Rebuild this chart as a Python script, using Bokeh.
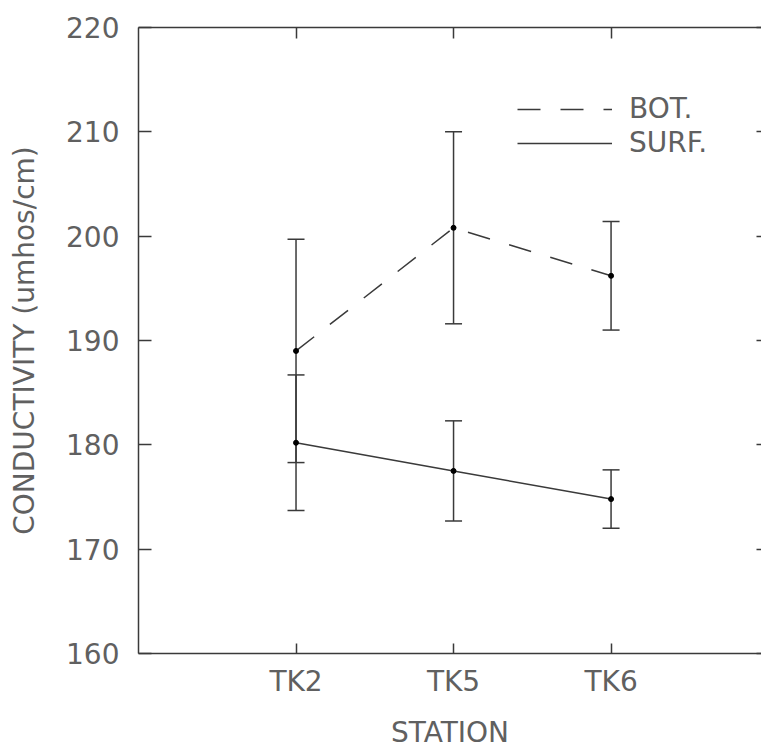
from bokeh.plotting import figure
from bokeh.models import (Range1d, LinearAxis, FixedTicker, Whisker, TeeHead,
                          ColumnDataSource, Legend, LegendItem)
from bokeh.embed import file_html
from bokeh.resources import INLINE

# ---- data ----
stations = ["TK2", "TK5", "TK6"]
bot_mean = [189.0, 200.8, 196.2]
bot_err = [10.7, 9.2, 5.2]
surf_mean = [180.2, 177.5, 174.8]
surf_err = [6.5, 4.8, 2.8]
y_ticks = [160, 170, 180, 190, 200, 210, 220]

xs = list(range(1, len(stations) + 1))
FONT = "DejaVu Sans"
TXT = "#606060"
INK = "#3a3a3a"
FS = "28px"

p = figure(width=761, height=751, output_backend="svg", toolbar_location=None,
           x_range=Range1d(0, 3.955), y_range=Range1d(160, 220),
           min_border_left=138, min_border_right=0, min_border_top=27,
           min_border_bottom=96, x_axis_location=None, y_axis_location=None)
p.outline_line_color = None
p.xgrid.visible = False
p.ygrid.visible = False


def style_axis(ax, tick_in):
    ax.axis_line_color = INK
    ax.axis_line_width = 1.5
    ax.major_tick_line_color = INK
    ax.major_tick_line_width = 1.5
    ax.major_tick_in = tick_in
    ax.major_tick_out = 0
    ax.minor_tick_in = 0
    ax.minor_tick_out = 0
    ax.major_label_text_font = FONT
    ax.major_label_text_font_size = FS
    ax.major_label_text_color = TXT
    ax.axis_label_text_font = FONT
    ax.axis_label_text_font_size = FS
    ax.axis_label_text_color = TXT
    ax.axis_label_text_font_style = "normal"


xb = LinearAxis(ticker=FixedTicker(ticks=xs),
                major_label_overrides={x: s for x, s in zip(xs, stations)},
                axis_label="STATION")
style_axis(xb, 10)
xb.major_label_standoff = 11
xb.axis_label_standoff = 15
p.add_layout(xb, "below")

yl = LinearAxis(ticker=FixedTicker(ticks=y_ticks), axis_label="CONDUCTIVITY (umhos/cm)")
style_axis(yl, 13)
yl.major_label_standoff = 19
yl.axis_label_standoff = 22
p.add_layout(yl, "left")

xt = LinearAxis(ticker=FixedTicker(ticks=xs),
                major_label_overrides={x: "" for x in xs})
style_axis(xt, 11)
xt.major_label_text_font_size = "0px"
xt.major_label_standoff = 0
p.add_layout(xt, "above")

yr = LinearAxis(ticker=FixedTicker(ticks=y_ticks),
                major_label_overrides={y: "" for y in y_ticks})
style_axis(yr, 5)
yr.axis_line_color = None
yr.major_label_text_font_size = "0px"
yr.major_label_standoff = 0
p.add_layout(yr, "right")

# error bars
for mean, err in ((bot_mean, bot_err), (surf_mean, surf_err)):
    src = ColumnDataSource(dict(x=xs,
                                upper=[m + e for m, e in zip(mean, err)],
                                lower=[m - e for m, e in zip(mean, err)]))
    w = Whisker(base="x", upper="upper", lower="lower", source=src,
                line_color=INK, line_width=1.5,
                upper_head=TeeHead(size=17, line_color=INK, line_width=1.5),
                lower_head=TeeHead(size=17, line_color=INK, line_width=1.5))
    p.add_layout(w)

bot_line = p.line(xs, bot_mean, line_color=INK, line_width=1.5, line_dash="23 20")
surf_line = p.line(xs, surf_mean, line_color=INK, line_width=1.5)
p.scatter(xs, bot_mean, size=5, color="black")
p.scatter(xs, surf_mean, size=5, color="black")

legend = Legend(items=[LegendItem(label="BOT.", renderers=[bot_line]),
                       LegendItem(label="SURF.", renderers=[surf_line])],
                location=(379, 494), padding=0, margin=0, spacing=1,
                glyph_width=95, glyph_height=20, label_standoff=17,
                label_text_font=FONT, label_text_font_size=FS,
                label_text_color=TXT, border_line_color=None,
                background_fill_alpha=0)
p.add_layout(legend, "center")

open("out.html", "w").write(file_html(p, INLINE))
